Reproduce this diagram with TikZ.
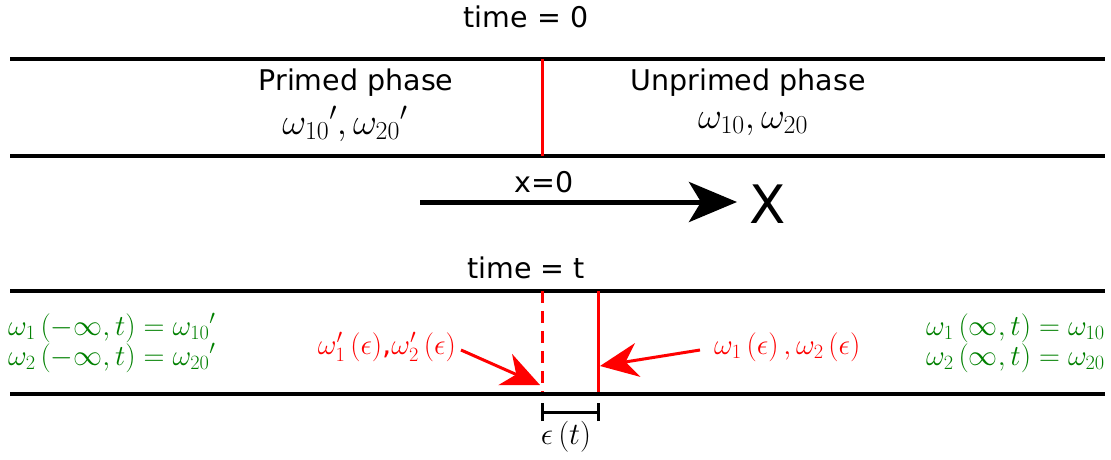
\RequirePackage{fix-cm}
\documentclass[tikz,border=0pt]{standalone}
\usepackage{fontspec}
\setmainfont{DejaVu Sans}
\usetikzlibrary{arrows.meta}
\definecolor{rd}{RGB}{255,0,0}
\definecolor{gr}{RGB}{0,128,0}
\tikzset{
  wall/.style={line width=4.5pt, black},
  iface/.style={line width=3pt, rd},
  lbl/.style={inner sep=0pt, font=\fontsize{28.5}{32}\selectfont},
  mathlbl/.style={inner sep=0pt, font=\fontsize{37}{42}\selectfont},
  eqlbl/.style={inner sep=0pt, text=gr, font=\fontsize{29}{26.5}\selectfont},
  redlbl/.style={inner sep=0pt, text=rd, font=\fontsize{29}{32}\selectfont},
  redarrow/.style={line width=3pt, rd, -{Stealth[length=38pt,width=34pt,inset=12pt]}},
}
\begin{document}
\begin{tikzpicture}[x=1pt,y=-1pt]
\useasboundingbox (0,0) rectangle (1111,459);
% top panel
\node[lbl] (t0) at (526,17) {time = 0};
\coordinate (a1) at (10,59); \coordinate (a2) at (1105,59);
\coordinate (b1) at (10,156); \coordinate (b2) at (1105,156);
\draw[wall] (a1) -- (a2);
\draw[wall] (b1) -- (b2);
\coordinate (i1) at (542,59); \coordinate (i2) at (542,156);
\draw[iface] (i1) -- (i2);
\node[lbl] (pp) at (356,83) {Primed phase};
\node[mathlbl] (pw) at (345,124) {$\omega_{10}{}',\omega_{20}{}'$};
\node[lbl] (up) at (748,83) {Unprimed phase};
\node[mathlbl] (uw) at (753,124) {$\omega_{10},\omega_{20}$};
% axis
\coordinate (x0) at (420,202);
\node[inner sep=0pt, font=\fontsize{53}{60}\selectfont] (X) at (768,204) {X};
\coordinate (xe) at (737,202);
\draw[line width=5pt, -{Stealth[length=48pt,width=40pt,inset=12pt]}] (x0) -- (xe);
\node[lbl] (x0l) at (544,182) {x=0};
% bottom panel
\node[lbl] (tt) at (526,268) {time = t};
\coordinate (c1) at (10,291); \coordinate (c2) at (1105,291);
\coordinate (d1) at (10,394); \coordinate (d2) at (1105,394);
\draw[wall] (c1) -- (c2);
\draw[wall] (d1) -- (d2);
\coordinate (e1) at (542,291); \coordinate (e2) at (542,392);
\coordinate (f1) at (598,291); \coordinate (f2) at (598,392);
\draw[iface, dash pattern=on 12pt off 8pt] (e1) -- (e2);
\draw[iface] (f1) -- (f2);
\node[redlbl, anchor=east] (lw) at (456,347) {$\omega_1'\left(\epsilon\right)$,$\omega_2'\left(\epsilon\right)$};
\node[redlbl, anchor=west] (rw) at (714,347) {$\omega_1\left(\epsilon\right),\omega_2\left(\epsilon\right)$};
\coordinate (la) at (461,350); \coordinate (lb) at (540,385);
\coordinate (ra) at (700,350); \coordinate (rb) at (600,366);
\draw[redarrow] (la) -- (lb);
\draw[redarrow] (ra) -- (rb);
% green equations
\node[eqlbl, anchor=west, align=left] (leq) at (8,343) {$\omega_1\left(-\infty,t\right)=\omega_{10}{}'$\\ $\omega_2\left(-\infty,t\right)=\omega_{20}{}'$};
\node[eqlbl, anchor=east, align=right] (req) at (1105,343) {$\omega_1\left(\infty,t\right)=\omega_{10}$\\ $\omega_2\left(\infty,t\right)=\omega_{20}$};
% dimension
\coordinate (g1) at (542,412); \coordinate (g2) at (598,412);
\draw[line width=3pt] (g1) -- (g2);
\draw[line width=3pt] ([yshift=-9pt]g1) -- ([yshift=9pt]g1);
\draw[line width=3pt] ([yshift=-9pt]g2) -- ([yshift=9pt]g2);
\node[inner sep=0pt, font=\fontsize{31}{34}\selectfont] (eps) at (566,437) {$\epsilon\left(t\right)$};
\end{tikzpicture}
\end{document}
